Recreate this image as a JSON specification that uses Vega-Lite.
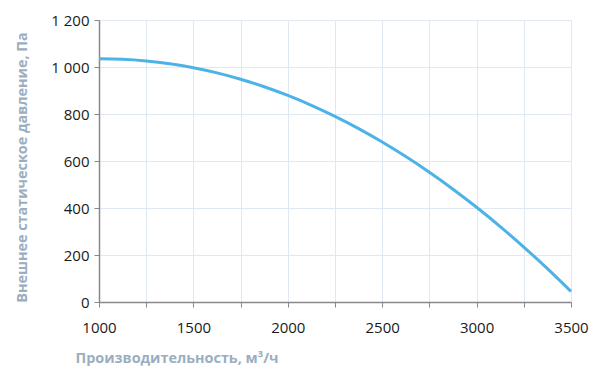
{
  "$schema": "https://vega.github.io/schema/vega-lite/v6.json",
  "width": 472,
  "height": 282,
  "autosize": {"type": "none"},
  "padding": {"left": 99, "top": 20, "right": 29, "bottom": 76},
  "background": "white",
  "data": {"values": [
    {"q": 1000, "p": 1035}, {"q": 1125, "p": 1033}, {"q": 1250, "p": 1026}, {"q": 1375, "p": 1014},
    {"q": 1500, "p": 997}, {"q": 1625, "p": 975}, {"q": 1750, "p": 948}, {"q": 1875, "p": 916},
    {"q": 2000, "p": 879}, {"q": 2125, "p": 837}, {"q": 2250, "p": 790}, {"q": 2375, "p": 738},
    {"q": 2500, "p": 681}, {"q": 2625, "p": 619}, {"q": 2750, "p": 552}, {"q": 2875, "p": 480},
    {"q": 3000, "p": 403}, {"q": 3125, "p": 321}, {"q": 3250, "p": 234}, {"q": 3375, "p": 142},
    {"q": 3500, "p": 45}
  ]},
  "mark": {"type": "line", "color": "#4db3e6", "strokeWidth": 3, "interpolate": "monotone"},
  "encoding": {
    "x": {
      "field": "q", "type": "quantitative",
      "scale": {"domain": [1000, 3500], "nice": false, "zero": false},
      "axis": {
        "values": [1000, 1250, 1500, 1750, 2000, 2250, 2500, 2750, 3000, 3250, 3500],
        "format": "d",
        "labelExpr": "datum.value % 500 == 0 ? datum.label : ''",
        "labelFlush": false, "labelOverlap": false,
        "title": "Производительность, м³/ч",
        "titleX": -24, "titleY": 60, "titleAlign": "left", "titleAnchor": null,
        "titleBaseline": "alphabetic",
        "labelPadding": 13, "tickSize": 5
      }
    },
    "y": {
      "field": "p", "type": "quantitative",
      "scale": {"domain": [0, 1200], "nice": false},
      "axis": {
        "values": [0, 200, 400, 600, 800, 1000, 1200],
        "labelExpr": "replace(format(datum.value, ',d'), ',', ' ')",
        "labelFlush": false,
        "title": "Внешнее статическое давление, Па",
        "titleX": -77, "titleY": 147, "titleAlign": "center", "titleBaseline": "middle",
        "titleAngle": -90,
        "labelPadding": 5, "tickSize": 5
      }
    }
  },
  "config": {
    "view": {"stroke": "#e3eaf5", "strokeWidth": 1},
    "axis": {
      "labelFont": "Open Sans", "labelFontSize": 15, "labelColor": "#1a1a1a",
      "titleFont": "Open Sans", "titleFontSize": 14.4, "titleFontWeight": "bold", "titleColor": "#9aaebf",
      "domainColor": "#888888", "domainWidth": 1.5, "tickColor": "#888888", "tickWidth": 1,
      "gridColor": "#e0e8f4", "gridWidth": 1
    }
  }
}
